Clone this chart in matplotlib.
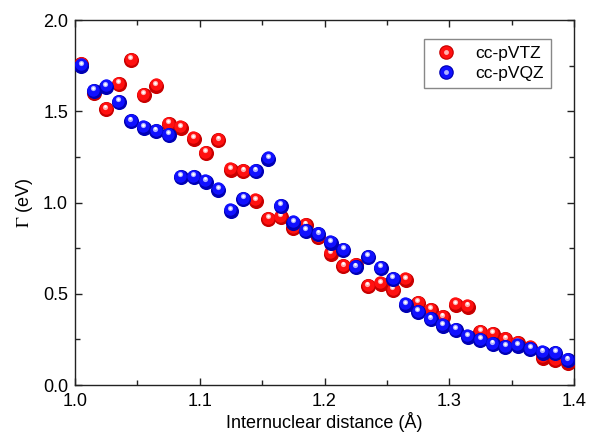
import numpy as np
import matplotlib
matplotlib.use('Agg')
import matplotlib.pyplot as plt
from matplotlib.transforms import ScaledTranslation
from matplotlib.lines import Line2D
from matplotlib.legend_handler import HandlerTuple

plt.rcParams['font.family'] = ['Liberation Sans', 'DejaVu Sans']
plt.rcParams['mathtext.fontset'] = 'stix'

# internuclear distance (Angstrom)
r = [1.005, 1.015, 1.025, 1.035, 1.045, 1.055, 1.065, 1.075, 1.085, 1.095,
     1.105, 1.115, 1.125, 1.135, 1.145, 1.155, 1.165, 1.175, 1.185, 1.195,
     1.205, 1.215, 1.225, 1.235, 1.245, 1.255, 1.265, 1.275, 1.285, 1.295,
     1.305, 1.315, 1.325, 1.335, 1.345, 1.355, 1.365, 1.375, 1.385, 1.395]

# width Gamma (eV)
gamma_vtz = [1.76, 1.60, 1.51, 1.65, 1.78, 1.59, 1.64, 1.43, 1.41, 1.35,
             1.27, 1.34, 1.18, 1.17, 1.01, 0.91, 0.92, 0.86, 0.875, 0.81,
             0.72, 0.65, 0.655, 0.54, 0.555, 0.52, 0.577, 0.45, 0.41, 0.37,
             0.44, 0.43, 0.29, 0.28, 0.25, 0.23, 0.205, 0.15, 0.135, 0.123]
gamma_vqz = [1.75, 1.61, 1.635, 1.55, 1.445, 1.41, 1.39, 1.37, 1.14, 1.14,
             1.115, 1.07, 0.955, 1.02, 1.17, 1.24, 0.98, 0.89, 0.845, 0.825,
             0.78, 0.74, 0.645, 0.70, 0.64, 0.58, 0.44, 0.40, 0.36, 0.325,
             0.30, 0.265, 0.247, 0.223, 0.207, 0.216, 0.198, 0.178, 0.175, 0.135]

fig = plt.figure(figsize=(5.98, 4.40), dpi=100)
ax = fig.add_axes([0.1254, 0.125, 0.8345, 0.8295])


def shift(dx, dy):
    return ax.transData + ScaledTranslation(dx / 72, dy / 72, fig.dpi_scale_trans)


def balls(x, y, dark, mid, light, z):
    # base, body and highlight to fake a shaded sphere
    ax.scatter(x, y, s=118, color=dark, linewidths=0, zorder=z)
    ax.scatter(x, y, s=80, color=mid, linewidths=0, zorder=z + 0.1,
               transform=shift(-0.4, 0.9))
    ax.scatter(x, y, s=14, color=light, linewidths=0, zorder=z + 0.2,
               transform=shift(-0.5, 2.0))
    ax.scatter(x, y, s=4, color='white', linewidths=0, zorder=z + 0.3,
               transform=shift(-0.5, 2.2))


balls(r, gamma_vtz, '#c80000', '#ff1010', '#ffb0b0', 3)
balls(r, gamma_vqz, '#0000b4', '#1010ff', '#b0b0ff', 4)

ax.set_xlim(1.0, 1.4)
ax.set_ylim(0.0, 2.0)
ax.set_xticks([1.0, 1.1, 1.2, 1.3, 1.4])
ax.set_xticks(np.arange(1.05, 1.4, 0.1), minor=True)
ax.set_yticks([0.0, 0.5, 1.0, 1.5, 2.0])
ax.set_yticks([0.25, 0.75, 1.25, 1.75], minor=True)
ax.xaxis.set_major_formatter(matplotlib.ticker.FormatStrFormatter('%.1f'))
ax.yaxis.set_major_formatter(matplotlib.ticker.FormatStrFormatter('%.1f'))
ax.tick_params(which='both', direction='in', top=True, right=True,
               labelsize=13, width=1.0, color='#222222')
ax.tick_params(which='major', length=5)
ax.tick_params(which='minor', length=3.5)
ax.tick_params(axis='x', pad=6)
ax.tick_params(axis='y', pad=5)
for sp in ax.spines.values():
    sp.set_linewidth(1.0)
    sp.set_color('#222222')

ax.set_xlabel('Internuclear distance (Å)', fontsize=13, labelpad=1)
ax.set_ylabel(r'$\Gamma$ (eV)', fontsize=13, labelpad=6)


def leg_ball(dark, mid, light):
    a = Line2D([], [], ls='none', marker='o', ms=10.5, mfc=dark, mec='none')
    b = Line2D([], [], ls='none', marker='o', ms=8.8, mfc=mid, mec='none')
    c = Line2D([], [], ls='none', marker='o', ms=3.5, mfc=light, mec='none')
    return (a, b, c)


ax.legend([leg_ball('#c80000', '#ff1010', '#ffb0b0'),
           leg_ball('#0000b4', '#1010ff', '#b0b0ff')],
          ['cc-pVTZ', 'cc-pVQZ'],
          handler_map={tuple: HandlerTuple(ndivide=1, pad=0)},
          loc='upper right', bbox_to_anchor=(0.954, 0.948), borderaxespad=0,
          fontsize=12.5, frameon=True, fancybox=False, edgecolor='#888888',
          framealpha=1, handlelength=1.8, handletextpad=0.8, borderpad=0.4,
          labelspacing=0.25)

fig.savefig('out.png', dpi=100)
